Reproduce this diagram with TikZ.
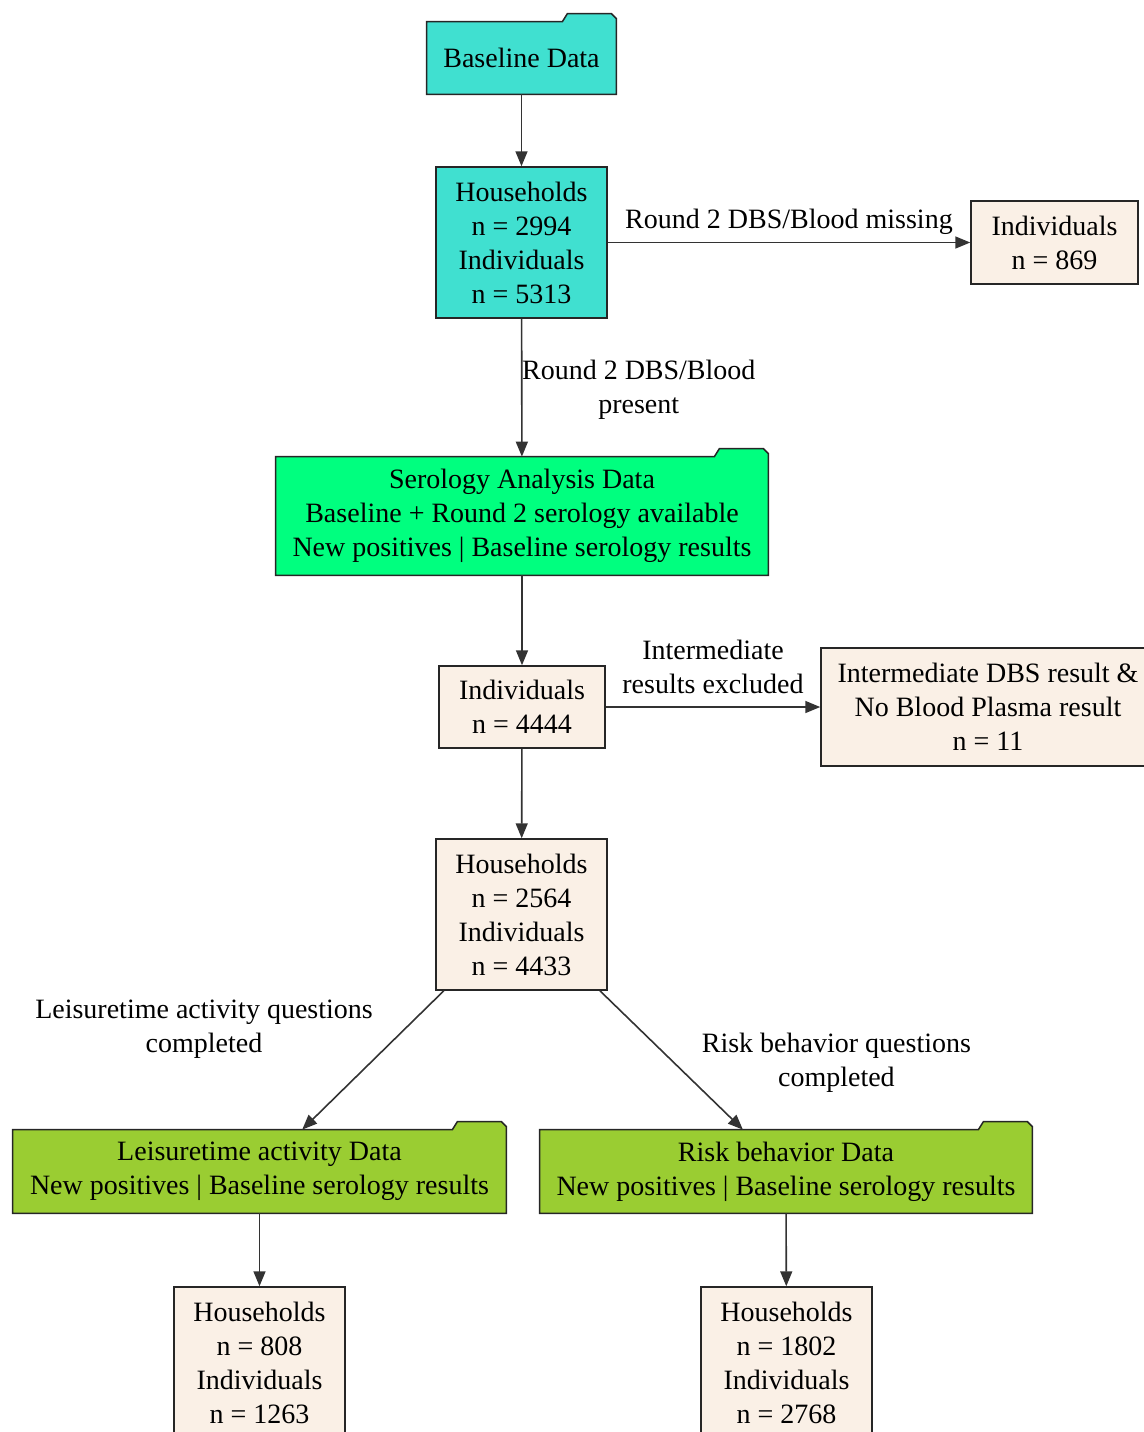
\documentclass[tikz,border=0pt]{standalone}
\usepackage{fontspec}
\setmainfont{Liberation Serif}
\usetikzlibrary{arrows.meta,calc,backgrounds}
\definecolor{turq}{HTML}{40E0D0}
\definecolor{sgreen}{HTML}{00FF7F}
\definecolor{ygreen}{HTML}{9ACD32}
\definecolor{linenc}{HTML}{FAF0E6}
\newcommand\folderbox[2]{%
  \begin{pgfonlayer}{background}
  \filldraw[boxline, fill=#2] (#1.south west) -- (#1.north west)
    -- ($(#1.north east)+(-54,0)$) -- ++(5,-8)
    -- ($(#1.north east)+(-5,-8)$) -- ($(#1.north east)+(0,-3)$)
    -- (#1.south east) -- cycle;
  \end{pgfonlayer}}
\begin{document}
\begin{tikzpicture}[x=0.5pt,y=-0.5pt,
  txt/.style={font=\fontsize{14}{17}\selectfont, align=center},
  boxline/.style={draw=black!85, line width=0.75pt},
  plainbox/.style={txt, boxline, rectangle, inner sep=0pt, fill=#1},
  fbox/.style={txt, rectangle, inner sep=0pt},
  conn/.style={draw=black!80, line width=0.8pt, -{Triangle[length=7.5pt,width=6pt]}},
  lbl/.style={txt, inner sep=0pt}]
\useasboundingbox (0,0) rectangle (1144,1432);
\clip (0,0) rectangle (1144,1432);

\node[fbox, minimum width=94.5pt, minimum height=36pt] (base) at (521.5,58) {Baseline Data};
\folderbox{base}{turq}

\node[plainbox=turq, minimum width=85.5pt, minimum height=75.5pt] (hh1) at (521.5,242.5)
  {Households\\n = 2994\\Individuals\\n = 5313};
\node[plainbox=linenc, minimum width=83.5pt, minimum height=41.5pt] (ind869) at (1054.5,242.5)
  {Individuals\\n = 869};

\node[fbox, minimum width=246pt, minimum height=59pt] (sero) at (522,516)
  {Serology Analysis Data\\Baseline + Round 2 serology available\\New positives | Baseline serology results};
\folderbox{sero}{sgreen}

\node[plainbox=linenc, minimum width=83pt, minimum height=41pt] (ind4444) at (522,707)
  {Individuals\\n = 4444};
\node[plainbox=linenc, minimum width=167pt, minimum height=59pt] (inter) at (988,707)
  {Intermediate DBS result \&\\No Blood Plasma result\\n = 11};

\node[plainbox=linenc, minimum width=85.5pt, minimum height=75.5pt] (hh2) at (521.5,914.5)
  {Households\\n = 2564\\Individuals\\n = 4433};

\node[fbox, minimum width=246.5pt, minimum height=41.5pt] (leis) at (259.5,1171.5)
  {Leisuretime activity Data\\New positives | Baseline serology results};
\folderbox{leis}{ygreen}
\node[fbox, minimum width=246pt, minimum height=41.5pt] (risk) at (786,1171.5)
  {Risk behavior Data\\New positives | Baseline serology results};
\folderbox{risk}{ygreen}

\node[plainbox=linenc, minimum width=85.5pt, minimum height=75.5pt] (hh3) at (259.5,1362.5)
  {Households\\n = 808\\Individuals\\n = 1263};
\node[plainbox=linenc, minimum width=85.5pt, minimum height=75.5pt] (hh4) at (786.5,1362.5)
  {Households\\n = 1802\\Individuals\\n = 2768};

\draw[conn] (base) -- (hh1);
\draw[conn] (hh1) -- node[lbl, midway, yshift=10.5pt] {Round 2 DBS/Blood missing} (ind869);
\draw[conn] (hh1) -- node[lbl, midway, xshift=58.5pt, yshift=-1pt] {Round 2 DBS/Blood\\present} (sero);
\draw[conn] (ind4444) -- node[lbl, midway, yshift=20pt] {Intermediate\\results excluded} (inter);
\draw[conn] (sero) -- (ind4444);
\draw[conn] (ind4444) -- (hh2);
\draw[conn] (hh2) -- node[lbl, midway, xshift=-84.5pt, yshift=15.5pt] {Leisuretime activity questions\\completed} (leis);
\draw[conn] (hh2) -- node[lbl, midway, xshift=82.5pt, yshift=-1.5pt] {Risk behavior questions\\completed} (risk);
\draw[conn] (leis) -- (hh3);
\draw[conn] (risk) -- (hh4);
\end{tikzpicture}
\end{document}
